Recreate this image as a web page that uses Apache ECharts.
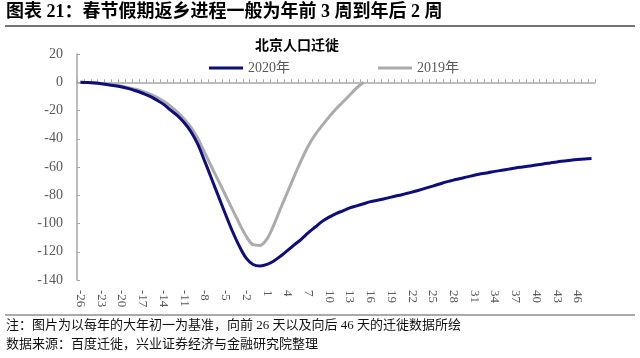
<!DOCTYPE html>
<html><head><meta charset="utf-8">
<script src="https://cdn.jsdelivr.net/npm/echarts@6/dist/echarts.min.js"></script>
<style>html,body{margin:0;padding:0;background:#fff}#c{width:640px;height:358px}</style>
</head><body><div id="c"></div><script>
// Days relative to Chinese New Year day 1 (大年初一)
const categories = ['-26','-25','-24','-23','-22','-21','-20','-19','-18','-17','-16','-15','-14','-13','-12','-11','-10','-9','-8','-7','-6','-5','-4','-3','-2','-1','0','1','2','3','4','5','6','7','8','9','10','11','12','13','14','15','16','17','18','19','20','21','22','23','24','25','26','27','28','29','30','31','32','33','34','35','36','37','38','39','40','41','42','43','44','45','46','47','48'];
const series2020 = [0,-0.2,-0.5,-1.0,-1.8,-2.5,-3.3,-4.5,-6,-7.8,-9.8,-12.5,-15.5,-19.5,-23.5,-28.5,-35,-44,-56,-68.5,-81,-93.5,-105.5,-116,-124.5,-129,-130,-129,-126.5,-123,-119,-115,-111,-106.5,-102.5,-98.5,-95.5,-93,-91,-89,-87.5,-86,-84.5,-83.5,-82.5,-81.3,-80.2,-79,-77.8,-76.5,-75,-73.5,-72,-70.5,-69.3,-68.1,-67,-65.8,-64.8,-64,-63.1,-62.3,-61.5,-60.7,-60,-59.3,-58.6,-57.8,-57.1,-56.4,-55.8,-55.2,-54.7,-54.3,-54];
const series2019 = [0,-0.2,-0.4,-0.8,-1.4,-2,-2.8,-3.8,-5,-6.5,-8.3,-10.5,-13.3,-16.8,-21,-26,-32,-40,-50,-60,-70,-80,-90,-100,-109,-115,-115.5,-111,-101,-89,-77.5,-66,-55,-45,-37,-30.5,-24.5,-19,-14,-9,-4,0];
const yTicks = {min:-140, max:20, interval:20};
const seriesNames = ['2020年','2019年'];
const chartTitle = '北京人口迁徙';
const headerText = '图表 21：春节假期返乡进程一般为年前 3 周到年后 2 周';
const noteText = '注：图片为以每年的大年初一为基准，向前 26 天以及向后 46 天的迁徙数据所绘';
const sourceText = '数据来源：百度迁徙，兴业证券经济与金融研究院整理';

const serif = "'Liberation Serif','Times New Roman','Noto Sans CJK SC',serif";
const axisGray = '#a6a6a6';
const chart = echarts.init(document.getElementById('c'));
chart.setOption({
  animation:false,
  backgroundColor:'#fff',
  title:{text:chartTitle,left:250,top:33,textStyle:{fontFamily:"'Noto Sans CJK SC'",fontWeight:'bold',fontSize:14,color:'#000'}},
  legend:{left:204,top:56,itemWidth:34,itemHeight:3,itemGap:88,icon:'rect',data:seriesNames,
    textStyle:{fontFamily:serif,fontSize:14,color:'#595959'}},
  grid:{left:77,right:45,top:54,bottom:78},
  xAxis:[
    {type:'category',data:categories,boundaryGap:true,
      axisLine:{onZero:true,lineStyle:{color:axisGray,width:1.5}},
      axisTick:{show:true,inside:true,length:3,interval:0,lineStyle:{color:axisGray}},
      axisLabel:{show:false}},
    {type:'category',data:categories,boundaryGap:true,position:'bottom',
      axisLine:{show:false,onZero:false},axisTick:{show:false},
      axisLabel:{interval:2,rotate:-90,margin:10,fontFamily:serif,fontSize:13,color:'#595959'}}
  ],
  yAxis:{type:'value',min:yTicks.min,max:yTicks.max,interval:yTicks.interval,
    axisLine:{show:true,lineStyle:{color:axisGray,width:1.5}},
    axisTick:{show:true,inside:true,length:3,lineStyle:{color:axisGray}},
    splitLine:{show:false},
    axisLabel:{margin:14,fontFamily:serif,fontSize:14,color:'#595959'}},
  series:[
    {name:seriesNames[0],type:'line',xAxisIndex:0,data:series2020,symbol:'none',smooth:0.35,
      lineStyle:{color:'#0d0d7c',width:3},itemStyle:{color:'#0d0d7c'},z:3},
    {name:seriesNames[1],type:'line',xAxisIndex:0,data:series2019,symbol:'none',smooth:0.35,
      lineStyle:{color:'#ababab',width:3},itemStyle:{color:'#ababab'},z:2}
  ],
  graphic:[
    {type:'text',left:6,top:3,style:{text:headerText,font:"bold 18px 'Liberation Serif','Noto Sans CJK SC'",fill:'#000'}},
    {type:'line',shape:{x1:5,y1:26,x2:635,y2:26},style:{stroke:'#444',lineWidth:1.5}},
    {type:'line',shape:{x1:5,y1:315,x2:635,y2:315},style:{stroke:'#555',lineWidth:1}},
    {type:'text',left:6,top:319,style:{text:noteText,font:"13px 'Liberation Serif','Noto Sans CJK SC'",fill:'#111'}},
    {type:'text',left:6,top:338,style:{text:sourceText,font:"13px 'Liberation Serif','Noto Sans CJK SC'",fill:'#111'}}
  ]
});
</script></body></html>
